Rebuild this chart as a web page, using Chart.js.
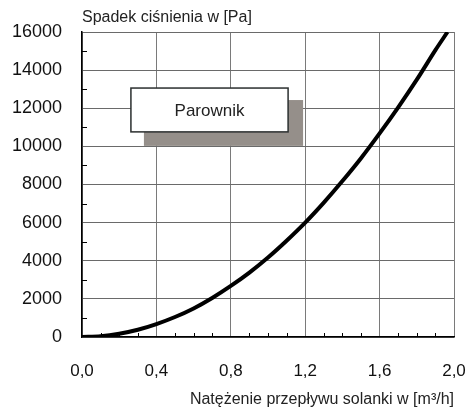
<!DOCTYPE html>
<html lang="pl">
<head>
  <meta charset="UTF-8">
  <title>Parownik - spadek ciśnienia</title>
  <script src="https://cdn.jsdelivr.net/npm/chart.js"></script>
  <style>
    html, body { margin: 0; padding: 0; background: #fff; }
    #wrap { width: 471px; height: 412px; }
  </style>
</head>
<body>
  <div id="wrap"><canvas id="myChart" width="471" height="412"></canvas></div>
<script>
  const flow = [0, 0.1, 0.2, 0.3, 0.4, 0.5, 0.6, 0.7, 0.8, 0.9, 1.0,
                1.1, 1.2, 1.3, 1.4, 1.5, 1.6, 1.7, 1.8, 1.9, 1.965];
  const pressure = [0, 40, 170, 380, 680, 1050, 1500, 2050, 2680, 3380, 4170,
                    5050, 6000, 7050, 8180, 9380, 10680, 12050, 13500, 15050, 16000];
  const seriesName = 'Parownik';
  const yTitle = 'Spadek ciśnienia w [Pa]';
  const xTitle = 'Natężenie przepływu solanki w [m³/h]';

  const FONT = "'Liberation Sans', Arial, sans-serif";

  // napisy, male kreski i ramka z nazwa
  const extras = {
    id: 'extras',
    afterDraw(chart) {
      const ctx = chart.ctx;
      const a = chart.chartArea;
      const xs = chart.scales.x, ys = chart.scales.y;
      ctx.save();

      // kreski pomocnicze
      ctx.strokeStyle = '#000';
      ctx.lineWidth = 1;
      ctx.beginPath();
      for (let v = 1000; v < 16000; v += 2000) {
        const py = Math.round(ys.getPixelForValue(v)) + 0.5;
        ctx.moveTo(a.left, py); ctx.lineTo(a.left + 5, py);
      }
      for (let i = 1; i < 20; i++) {
        if (i % 4 === 0) continue;
        const px = Math.round(xs.getPixelForValue(i / 10)) + 0.5;
        ctx.moveTo(px, a.bottom); ctx.lineTo(px, a.bottom - 4);
      }
      ctx.stroke();

      // tytul osi y
      ctx.fillStyle = '#222';
      ctx.font = '16px ' + FONT;
      ctx.textAlign = 'left';
      ctx.textBaseline = 'middle';
      ctx.fillText(yTitle, a.left, a.top - 14);

      // ramka z nazwa serii
      const l = xs.getPixelForValue(0.263), r = xs.getPixelForValue(1.108);
      const t = ys.getPixelForValue(13060), b = ys.getPixelForValue(10760);
      ctx.fillStyle = '#958f8a';
      ctx.fillRect(l + 13, t + 12, r - l + 2, b - t + 2);
      ctx.fillStyle = '#fff';
      ctx.fillRect(l, t, r - l, b - t);
      ctx.strokeStyle = '#2b2f2f';
      ctx.lineWidth = 1.5;
      ctx.strokeRect(l, t, r - l, b - t);
      ctx.fillStyle = '#222';
      ctx.font = '17px ' + FONT;
      ctx.textAlign = 'center';
      ctx.fillText(seriesName, (l + r) / 2, (t + b) / 2 + 1);
      ctx.restore();
    }
  };

  const ctx = document.getElementById('myChart').getContext('2d');
  const myChart = new Chart(ctx, {
    type: 'line',
    data: {
      datasets: [{
        label: seriesName,
        data: flow.map((x, i) => ({ x: x, y: pressure[i] })),
        borderColor: '#000',
        borderWidth: 4,
        pointRadius: 0,
        fill: false,
        cubicInterpolationMode: 'monotone'
      }]
    },
    options: {
      responsive: false,
      animation: false,
      layout: { padding: { top: 32, right: 0, left: 0, bottom: 0 } },
      plugins: {
        legend: { display: false },
        tooltip: { enabled: false }
      },
      scales: {
        x: {
          type: 'linear',
          min: 0,
          max: 2,
          afterFit: s => { s.height = 75; s.paddingLeft = 0; s.paddingRight = 17; },
          ticks: {
            stepSize: 0.4,
            padding: 24,
            color: '#111',
            font: { family: FONT, size: 17 },
            callback: v => v.toFixed(1).replace('.', ',')
          },
          grid: { color: '#7a7a7a', lineWidth: 1, drawTicks: false },
          border: { color: '#000', width: 1.5 },
          title: {
            display: true,
            text: xTitle,
            align: 'end',
            color: '#222',
            font: { family: FONT, size: 16 },
            padding: { top: 0, bottom: 3 }
          }
        },
        y: {
          min: 0,
          max: 16000,
          afterFit: s => { s.width = 82; s.paddingTop = 0; s.paddingBottom = 0; },
          ticks: {
            stepSize: 2000,
            padding: 20,
            color: '#111',
            font: { family: FONT, size: 18 },
            callback: v => String(v)
          },
          grid: { color: '#6a6a6a', lineWidth: 1, drawTicks: false },
          border: { color: '#000', width: 1.5 }
        }
      }
    },
    plugins: [extras]
  });
</script>
</body>
</html>
